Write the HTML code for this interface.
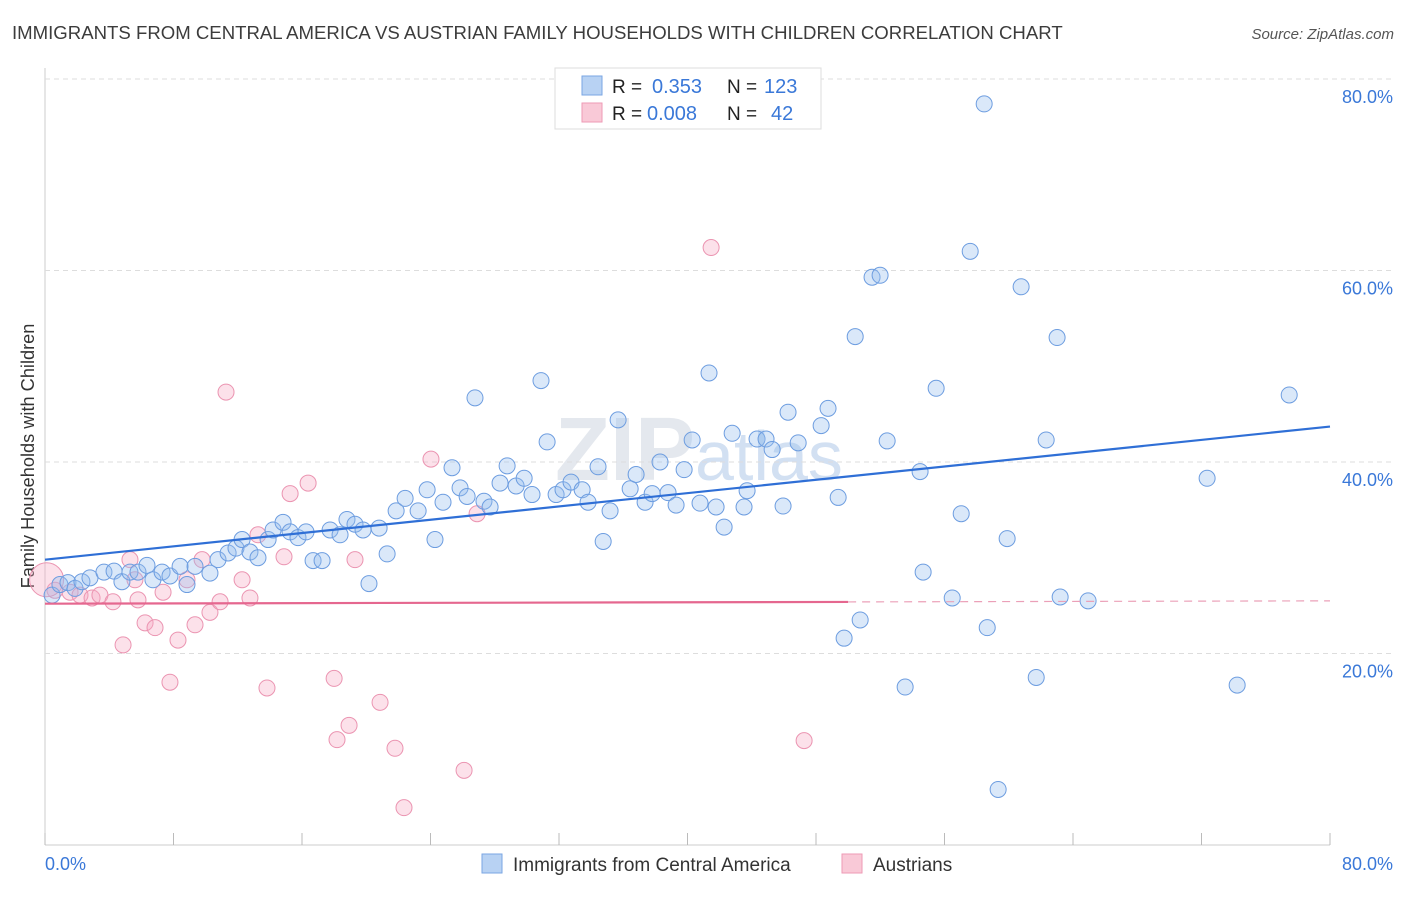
<!DOCTYPE html>
<html><head><meta charset="utf-8">
<style>
body{margin:0;background:#fff;font-family:"Liberation Sans",sans-serif;}
svg text{font-family:"Liberation Sans",sans-serif;}
</style></head>
<body>
<svg id="chart" width="1406" height="892">
<text x="12" y="39" font-size="18.6" fill="#3c3c3c">IMMIGRANTS FROM CENTRAL AMERICA VS AUSTRIAN FAMILY HOUSEHOLDS WITH CHILDREN CORRELATION CHART</text>
<text x="1394" y="39" font-size="15" fill="#555" text-anchor="end" font-style="italic">Source: ZipAtlas.com</text>
<text x="555" y="480" font-size="90" fill="#e4e8ee" font-weight="bold" font-family="Liberation Serif">ZIP<tspan font-size="70" fill="#d2e0f2" font-family="Liberation Sans" font-weight="normal">atlas</tspan></text>
<text transform="translate(34,456) rotate(-90)" font-size="18.2" fill="#333" text-anchor="middle">Family Households with Children</text>
<g id="grid"></g><g id="ticks"></g><g id="lines"></g><g id="pts"></g>
<g>
<rect x="555" y="68" width="266" height="61" fill="#fff" stroke="#ddd"/>
<rect x="582" y="76" width="20" height="19" fill="#b8d2f3" stroke="#7aa6e3"/>
<rect x="582" y="103" width="20" height="19" fill="#f9c9d7" stroke="#ee9ab5"/>
<text x="612" y="93" font-size="19" fill="#222">R =</text><text x="652" y="93" font-size="20" fill="#3a78d8">0.353</text>
<text x="727" y="93" font-size="19" fill="#222">N =</text><text x="764" y="93" font-size="20" fill="#3a78d8">123</text>
<text x="612" y="120" font-size="19" fill="#222">R =</text><text x="647" y="120" font-size="20" fill="#3a78d8">0.008</text>
<text x="727" y="120" font-size="19" fill="#222">N =</text><text x="771" y="120" font-size="20" fill="#3a78d8">42</text>
</g>
<g>
<rect x="482" y="854" width="20" height="19" fill="#b8d2f3" stroke="#7aa6e3"/>
<text x="513" y="871" font-size="19" fill="#333">Immigrants from Central America</text>
<rect x="842" y="854" width="20" height="19" fill="#f9c9d7" stroke="#ee9ab5"/>
<text x="873" y="871" font-size="19" fill="#333">Austrians</text>
</g>
</svg>
<script>
const blueX=[0.44,0.93,1.43,1.87,2.30,2.80,3.67,4.30,4.79,5.29,5.79,6.35,6.72,7.29,7.78,8.41,8.84,9.34,10.27,10.77,11.40,11.89,12.27,12.76,13.26,13.89,14.20,14.82,15.26,15.75,16.25,16.69,17.25,17.75,18.37,18.80,19.30,19.80,20.80,21.30,20.17,21.86,22.42,23.23,23.79,24.28,24.78,25.34,25.84,26.28,26.77,27.33,27.71,28.33,28.77,29.33,29.83,30.32,30.88,31.26,31.82,32.25,32.75,33.44,33.81,34.43,34.75,35.18,35.68,36.43,36.80,37.36,37.80,38.29,38.79,39.29,39.79,40.29,40.78,41.34,41.78,42.28,42.78,43.52,43.71,44.33,44.89,45.27,45.95,46.26,46.89,48.32,48.75,49.38,49.75,50.44,50.75,51.49,51.99,52.43,53.55,54.48,54.67,55.48,56.48,57.04,57.60,58.47,58.66,59.34,59.90,60.77,61.71,62.33,63.01,63.20,64.94,72.35,74.22,77.46];
const blueY=[26.1,27.2,27.4,26.8,27.5,27.9,28.5,28.6,27.5,28.5,28.5,29.2,27.7,28.5,28.1,29.1,27.2,29.1,28.4,29.8,30.5,31.0,31.9,30.6,30.0,31.9,32.9,33.7,32.7,32.1,32.7,29.7,29.7,32.9,32.4,34.0,33.5,32.9,33.1,30.4,27.3,34.9,36.2,34.9,37.1,31.9,35.8,39.4,37.3,36.4,46.7,35.9,35.3,37.8,39.6,37.5,38.3,36.6,48.5,42.1,36.6,37.1,37.9,37.1,35.8,39.5,31.7,34.9,44.4,37.2,38.7,35.8,36.7,40.0,36.8,35.5,39.2,42.3,35.7,49.3,35.3,33.2,43.0,35.3,37.0,42.4,42.4,41.3,35.4,45.2,42.0,43.8,45.6,36.3,21.6,53.1,23.5,59.3,59.5,42.2,16.5,39.0,28.5,47.7,25.8,34.6,62.0,77.4,22.7,5.8,32.0,58.3,17.5,42.3,53.0,25.9,25.5,38.3,16.7,47.0];
const pinkX=[0.62,1.56,2.18,2.93,3.42,4.23,4.86,5.29,5.60,5.79,6.23,6.85,7.35,7.78,8.28,8.84,9.34,9.78,10.27,10.90,11.27,12.27,12.76,13.26,13.82,14.88,15.26,16.38,18.00,18.18,18.93,19.30,20.86,21.79,22.35,24.03,26.09,26.90,41.47,47.26];
const pinkY=[26.6,26.4,26.1,25.8,26.1,25.4,20.9,29.8,27.7,25.6,23.2,22.7,26.4,17.0,21.4,27.7,23.0,29.8,24.3,25.4,47.3,27.7,25.8,32.4,16.4,30.1,36.7,37.8,17.4,11.0,12.5,29.8,14.9,10.1,3.9,40.3,7.8,34.6,62.4,10.9];
const blueTrend=[29.8,43.7];
const pinkTrend=[25.2,25.5];
const yTicks=[20,40,60,80];
const xTicks=[0,8,16,24,32,40,48,56,64,72,80];
const NS='http://www.w3.org/2000/svg';
const sx=v=>45+v*(1285/80), sy=v=>845-v*(766/80);
function mk(t,a,p){const e=document.createElementNS(NS,t);for(const k in a)e.setAttribute(k,a[k]);p.appendChild(e);return e;}
const grid=document.getElementById('grid'),ticks=document.getElementById('ticks'),lines=document.getElementById('lines'),pts=document.getElementById('pts');
let ax=mk('line',{x1:45,y1:68,x2:45,y2:845,stroke:'#ccc'},grid);


let bx=mk('line',{x1:45,y1:845,x2:1330,y2:845,stroke:'#ccc'},grid);


yTicks.forEach(v=>{
 const g=mk('line',{x1:45,x2:1393,y1:sy(v),y2:sy(v),stroke:'#ddd','stroke-dasharray':'5,4'},grid);
 
 
 const t=mk('text',{x:1393,y:sy(v)+24,'font-size':18,fill:'#3a78d8','text-anchor':'end'},ticks);
 t.textContent=v.toFixed(1)+'%';
 
 
});
xTicks.forEach(v=>{
 const l=mk('line',{x1:sx(v),x2:sx(v),y1:833,y2:845,stroke:'#bbb'},ticks);
 
 
});
[[0,45,'start'],[80,1393,'end']].forEach(([v,x,a])=>{
 const t=mk('text',{x:x,y:870,'font-size':18,fill:'#3a78d8','text-anchor':a},ticks);
 t.textContent=v.toFixed(1)+'%';
 
 
});
pinkX.forEach((x,i)=>{
 const c=mk('circle',{cx:sx(x),cy:sy(pinkY[i]),r:8,fill:'rgba(245,170,195,0.35)',stroke:'#eb94b1','stroke-width':1},pts);
 
 
});
const big=mk('circle',{cx:sx(0.1),cy:sy(27.7),r:17,fill:'rgba(245,170,195,0.35)',stroke:'#eb94b1'},pts);


blueX.forEach((x,i)=>{
 const c=mk('circle',{cx:sx(x),cy:sy(blueY[i]),r:8,fill:'rgba(150,188,238,0.35)',stroke:'#6d9de0','stroke-width':1},pts);
 
 
});
const bl=mk('line',{x1:sx(0),y1:sy(blueTrend[0]),x2:sx(80),y2:sy(blueTrend[1]),stroke:'#2f6fd6','stroke-width':2.2},pts);


const pm=pinkTrend[0]+(pinkTrend[1]-pinkTrend[0])*50/80;
const pl=mk('line',{x1:sx(0),y1:sy(pinkTrend[0]),x2:sx(50),y2:sy(pm),stroke:'#e5678f','stroke-width':2.2},pts);


const pd=mk('line',{x1:sx(50),y1:sy(pm),x2:sx(80),y2:sy(pinkTrend[1]),stroke:'#eba0b8','stroke-width':1.2,'stroke-dasharray':'8,6'},pts);


</script>
</body></html>
